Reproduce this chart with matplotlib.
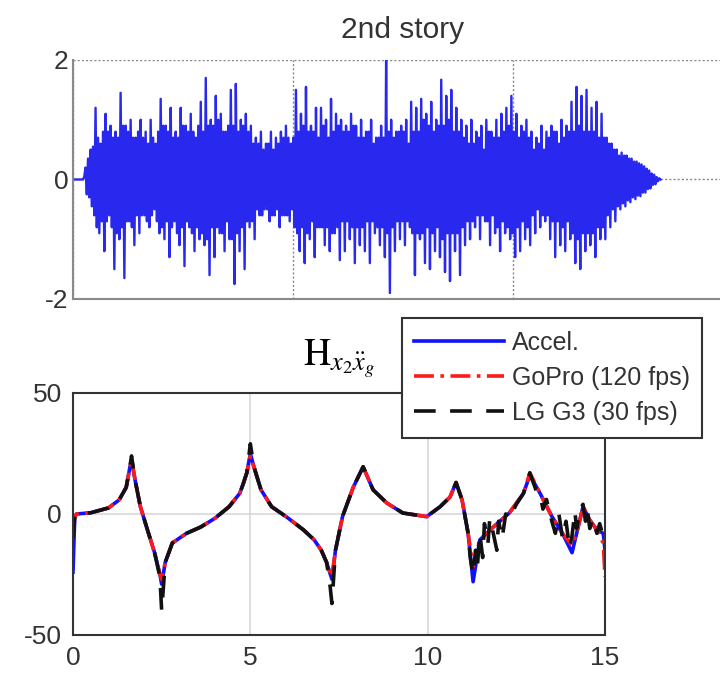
import numpy as np
import matplotlib
matplotlib.use("Agg")
import matplotlib.pyplot as plt

plt.rcParams['font.family'] = ['Liberation Sans', 'DejaVu Sans']
plt.rcParams['mathtext.fontset'] = 'stix'
plt.rcParams['axes.unicode_minus'] = False

# 2nd story acceleration (peak to peak)
acc = [
    0, 0, 0, 0, 0, 0, 0, 0, 0, 0.05,
    0.2, -0.25, 0.35, -0.3, 0.5, -0.45, 0.55, -0.6,
    1.2, -0.8, 0.7, -0.9, 0.6, -0.7, 0.8, -1.2, 1.1, -0.7, 0.8, -0.6, 0.9, -0.8, 0.7, -1.5,
    0.8, -0.9, 0.7, -1.0, 1.45, -0.8, 0.9, -1.65, 0.9, -0.7, 0.8, -0.7, 1.0, -0.8, 0.7, -1.1,
    0.7, -0.6, 0.8, -0.9, 1.0, -0.6, 0.7, -0.6, 0.8, -0.7, 0.6, -0.8, 1.0, -0.6, 0.7, -0.5,
    0.6, -0.7, 0.8, -0.9,
    1.35, -0.8, 0.9, -1.0, 0.9, -0.7, 0.8, -1.3, 1.2, -0.8, 0.7, -0.7, 0.8, -0.9, 0.7, -1.1,
    1.2, -0.8, 0.9, -1.45, 0.9, -0.7, 0.8, -0.8, 1.1, -0.9, 0.8, -1.2, 0.7, -0.8, 0.9, -1.0,
    1.3, -0.9, 0.8, -1.1, 1.7, -1.0, 0.9, -1.6, 1.0, -0.8, 0.9, -1.3, 1.4, -0.8, 1.0, -0.9,
    1.1, -0.9, 0.8, -1.2, 0.8, -0.7, 0.9, -1.0,
    1.5, -1.0, 0.9, -1.75, 1.6, -0.9, 0.8, -1.2, 1.0, -0.8, 0.9, -1.5, 1.1, -0.7, 0.8, -0.8,
    0.9, -0.7, 0.6, -1.0,
    0.7, -0.5, 0.6, -0.6, 0.8, -0.6, 0.5, -0.5, 0.6, -0.5, 0.6, -0.7, 0.8, -0.6, 0.5, -0.6,
    0.7, -0.5, 0.6, -0.8, 0.8, -0.6, 0.7, -0.6, 0.9, -0.6, 0.7, -0.7, 0.6, -0.5, 0.7, -0.8,
    1.5, -0.9, 0.8, -1.2, 1.1, -0.8, 0.9, -1.4, 1.55, -0.9, 0.8, -1.0, 0.9, -0.7, 0.8, -1.3,
    1.2, -0.8, 0.7, -0.8,
    1.2, -0.8, 0.9, -1.1, 1.0, -0.8, 0.7, -1.2, 1.35, -0.9, 0.8, -0.9, 1.1, -0.8, 0.9, -1.35,
    1.0, -0.7, 0.8, -1.2, 0.9, -0.7, 0.8, -1.0, 1.1, -0.8, 0.9, -1.4, 0.9, -0.8, 0.7, -1.1,
    1.0, -0.8, 0.7, -1.2, 0.8, -0.7, 0.8, -1.4, 1.0, -0.7, 0.6, -0.9, 0.7, -0.8, 0.7, -1.1,
    0.9, -0.8, 0.7, -1.3,
    2.0, -0.9, 0.8, -1.9,
    1.0, -0.8, 0.7, -1.2, 0.8, -0.7, 0.8, -1.0, 0.9, -0.7, 0.8, -1.1, 1.0, -0.7, 0.6, -0.8,
    1.3, -0.9, 0.8, -1.6, 1.2, -0.9, 0.8, -1.0, 1.35, -0.9, 1.0, -1.4, 1.1, -0.8, 0.9, -1.5,
    1.3, -0.9, 0.8, -1.2, 1.0, -0.8, 0.9, -1.3,
    1.67, -1.0, 0.9, -1.55, 1.4, -0.9, 1.0, -1.7, 1.5, -0.9, 0.8, -1.2, 1.2, -0.9, 0.8, -1.6,
    1.0, -0.8, 0.7, -1.1,
    0.9, -0.7, 0.6, -1.0, 1.0, -0.7, 0.6, -0.8, 0.8, -0.6, 0.7, -1.0, 0.9, -0.6, 0.5, -0.7,
    1.0, -0.7, 0.8, -1.1, 0.8, -0.6, 0.7, -0.9,
    1.0, -0.8, 0.7, -1.2, 1.1, -0.7, 0.8, -0.9, 1.2, -0.8, 0.9, -1.0, 1.4, -0.9, 0.8, -1.3,
    1.1, -0.8, 0.7, -1.2, 0.9, -0.7, 0.8, -1.0, 1.0, -0.8, 0.7, -1.1,
    0.8, -0.6, 0.5, -0.9, 0.7, -0.5, 0.6, -0.8, 0.9, -0.6, 0.5, -0.7, 0.8, -0.6, 0.7, -1.0,
    0.9, -0.7, 0.8, -1.3, 0.8, -0.7, 0.6, -1.1, 1.0, -0.8, 0.7, -1.2, 0.9, -0.7, 0.8, -1.0,
    1.3, -0.9, 0.8, -1.4, 1.55, -1.0, 0.9, -1.5, 1.4, -0.9, 0.8, -1.2, 1.5, -0.9, 0.8, -1.1,
    1.2, -0.9, 0.8, -1.3, 1.3, -0.8, 0.7, -1.0, 1.1, -0.8, 0.7, -1.0,
    0.7, -0.6, 0.6, -0.8, 0.6, -0.5, 0.5, -0.7, 0.5, -0.45, 0.4, -0.5, 0.45, -0.4, 0.4, -0.45,
    0.4, -0.35, 0.35, -0.38, 0.35, -0.3, 0.3, -0.33, 0.3, -0.27, 0.27, -0.28, 0.25, -0.22,
    0.22, -0.22, 0.18, -0.16, 0.15, -0.15, 0.1, -0.09, 0.08, -0.08, 0.04, -0.03, 0.02, 0.0,
]
t_end = 26.7

# transfer function, Accel. and GoPro on the same frequency grid
freq = [0, 0.05, 0.1, 0.5, 1.0, 1.3, 1.5, 1.55, 1.6, 1.65, 1.75, 1.9, 2.1, 2.3, 2.45, 2.5,
        2.6, 2.8, 3.2, 3.6, 4.0, 4.4, 4.7, 4.8, 4.9, 5.0, 5.1, 5.3, 5.6, 6.0, 6.5, 6.8,
        7.0, 7.15, 7.3, 7.4, 7.6, 7.75, 7.9, 8.18, 8.46, 8.85, 9.3, 9.97, 10.35, 10.63,
        10.8, 10.97, 11.14, 11.28, 11.47, 11.85, 12.3, 12.7, 12.88, 13.17, 13.5, 13.8,
        14.07, 14.2, 14.38, 14.57, 14.77, 14.95, 15.0]
h_accel = [-24, -1, 0, 0.5, 2.5, 5.8, 11, 15, 19, 22.5, 14, 3, -6.6, -16, -25, -29,
           -20, -12, -8, -5.4, -1.8, 3, 8.5, 12.5, 17, 25, 19.5, 10, 3, -1, -6.6, -10.7,
           -15, -20, -27, -15, -1, 5, 11, 19.5, 10, 4.5, 0.4, -1.1, 3, 7,
           13, 5.8, -8, -28, -10.7, -5.4, 0.4, 8.5, 16, 8.5, -1, -8,
           -16, -8, 3, -2.5, -6.6, -8, -15]
h_gopro = [-7, -1, 0, 0.5, 2.5, 5.8, 11, 15, 19, 23, 14, 3, -6.6, -16, -25, -27,
           -20, -12, -8, -5.4, -1.8, 3, 8.5, 12.5, 17, 24, 19.5, 10, 3, -1, -6.6, -10.7,
           -15, -20, -26, -15, -1, 5, 11, 19.5, 10, 4.5, 0.4, -1.1, 3, 7,
           13, 5.8, -8, -22, -10.7, -5.4, 0.4, 8.5, 17, 8.5, -1, -8,
           -13, -8, 3, -2.5, -6.6, -12, -26]

# LG G3 has its own (noisier) grid
freq_lg = [0, 0.05, 0.1, 0.5, 1.0, 1.3, 1.5, 1.55, 1.6, 1.65, 1.75, 1.9, 2.1, 2.3, 2.45, 2.5,
           2.6, 2.8, 3.2, 3.6, 4.0, 4.4, 4.7, 4.8, 4.9, 5.0, 5.1, 5.3, 5.6, 6.0, 6.5, 6.8,
           7.0, 7.15, 7.25, 7.3, 7.4, 7.6, 7.75, 7.9, 8.18, 8.46, 8.85, 9.3, 9.97, 10.35,
           10.63, 10.8, 10.97, 11.14, 11.2, 11.28, 11.35, 11.4, 11.47, 11.55, 11.6, 11.7,
           11.75, 11.85, 11.95, 12.0, 12.1, 12.2, 12.3, 12.5, 12.7, 12.88, 13.05, 13.17,
           13.25, 13.35, 13.5, 13.6, 13.7, 13.8, 13.9, 14.0, 14.07, 14.15, 14.2, 14.3,
           14.38, 14.45, 14.5, 14.57, 14.65, 14.77, 14.85, 15.0]
h_lg = [-10, -1, 0, 0.5, 2.5, 5.8, 11, 15, 19, 24, 14, 3, -6.6, -16, -26, -40,
        -20, -12, -8, -5.4, -1.8, 3, 8.5, 12.5, 17, 29, 19.5, 10, 3, -1, -6.6, -10.7,
        -15, -20, -30, -37, -15, -1, 5, 11, 19.5, 10, 4.5, 0.4, -1.1, 3,
        7, 13, 5.8, -8, -18, -25, -15, -22, -8, -18, -4, -12,
        -2, -8, -15, -3, -10, 0, -2, 4, 8.5, 17, 10, 8,
        2, 6, -3, -8, 0, -10, -3, -14, -9, 1, -6, 2,
        4, -3, 2, -6, -2, -8, -4, -12]

fig = plt.figure(figsize=(7.2, 6.8), dpi=100)

# top panel: time history
ax1 = fig.add_axes([0.1014, 0.5603, 0.9167, 0.3515])
t = np.linspace(0, t_end, len(acc))
ax1.plot(t, acc, color='#2828ee', lw=1.7)
ax1.set_xlim(0, 30)
ax1.set_ylim(-2, 2)
ax1.set_xticks([0, 10, 20, 30])
ax1.set_xticklabels([])
ax1.set_yticks([-2, 0, 2])
ax1.grid(True, ls=(0, (1.5, 1.5)), color='#888888', lw=1.0)
for s in ['top', 'right']:
    ax1.spines[s].set_visible(False)
for s in ['left', 'bottom']:
    ax1.spines[s].set_color('#8a8a8a')
    ax1.spines[s].set_linewidth(1.5)
ax1.tick_params(direction='in', length=0, labelcolor='#333333', labelsize=19)
ax1.set_title('2nd story', fontsize=21.5, color='#333333', pad=16)

# bottom panel: transfer function
ax2 = fig.add_axes([0.1014, 0.0662, 0.7389, 0.3559])
ax2.plot(freq, h_accel, color='#1010ff', lw=2.6, label='Accel.')
ax2.plot(freq, h_gopro, color='#ff1a1a', lw=2.6, ls='-.', dashes=(5.5, 1.8, 1, 1.8),
         label='GoPro (120 fps)')
ax2.plot(freq_lg, h_lg, color='#111111', lw=2.6, ls='--', dashes=(6, 4),
         label='LG G3 (30 fps)')
ax2.set_xlim(0, 15)
ax2.set_ylim(-50, 50)
ax2.set_xticks([0, 5, 10, 15])
ax2.set_yticks([-50, 0, 50])
ax2.grid(True, color='#d8d8d8', lw=1.2)
ax2.set_axisbelow(True)
for s in ax2.spines.values():
    s.set_color('#333333')
    s.set_linewidth(1.5)
ax2.tick_params(direction='in', length=0, labelcolor='#333333', labelsize=19, pad=8)
ax2.set_title(r'$\mathrm{H}_{x_2\ddot{x}_g}$', fontsize=27, pad=20)

leg = ax2.legend(loc='upper right', bbox_to_anchor=(0.975, 0.532),
                 bbox_transform=fig.transFigure, borderaxespad=0, fontsize=18,
                 handlelength=3.6, handletextpad=0.3, labelspacing=0.45,
                 borderpad=0.5, fancybox=False, framealpha=1)
leg.get_frame().set_edgecolor('#333333')
leg.get_frame().set_linewidth(1.5)
for txt in leg.get_texts():
    txt.set_color('#333333')

fig.savefig('out.png', dpi=100)
